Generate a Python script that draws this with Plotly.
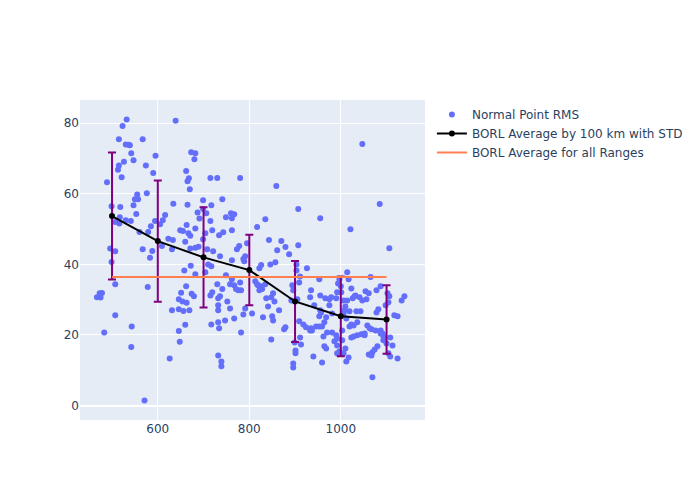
import plotly.graph_objects as go

# normal point range (km) and RMS values
range_km = [
    467, 473, 483, 489, 496, 499, 499, 507, 507, 507, 515, 513, 515, 517, 521, 523, 526, 532, 530, 539,
    536, 542, 547, 543, 542, 567, 639, 595, 574, 590, 555, 550, 557, 576, 518, 547, 634, 665, 673, 682,
    680, 662, 668, 665, 670, 553, 530, 541, 516, 507, 616, 611, 594, 605, 585, 579, 687, 691, 663, 649,
    655, 667, 671, 682, 623, 633, 660, 560, 671, 682, 689, 567, 588, 583, 609, 631, 658, 672, 682, 478,
    475, 578, 662, 651, 674, 679, 646, 654, 663, 631, 646, 656, 669, 571, 660, 646, 648, 626,
    715, 730, 780, 699, 717, 706, 699, 741, 749, 760, 762, 767, 715, 719, 734, 704, 699, 743, 762, 708,
    721, 736, 773, 778, 762, 791, 795, 787, 789, 710, 717, 704, 749, 762, 730, 758, 741, 767, 776, 780,
    782, 771, 719, 715, 732, 736, 752, 732, 732, 758, 791, 787, 806, 717, 732, 734, 782, 732, 739, 739,
    747, 767, 817, 835, 859, 843, 861, 870, 879, 887, 822, 826, 846, 857, 813, 819, 826, 828, 835, 817,
    822, 837, 848, 855, 852, 841, 850, 830, 865, 852, 879, 876, 848, 894, 909, 903, 903, 896, 905, 896,
    896, 901, 901, 899, 907, 907, 911, 892, 926, 909, 918, 924, 933, 937, 911, 913, 935, 946, 942, 933,
    935, 953, 940, 955, 955, 957, 966, 955, 953, 953, 959, 968, 964, 975, 962, 970, 959, 964, 968, 975,
    979, 981, 990, 986, 990, 981, 992, 997, 999, 992, 994, 1000, 1001, 992, 997, 992, 1003, 1003, 1010, 1006,
    1012, 1006, 1010, 1008, 1014, 1017, 1006, 1014, 1012, 1017, 1021, 1019, 1023, 1028, 1023, 1028, 1023, 1032, 1026, 1030,
    1019, 1034, 1036, 1041, 1043, 1047, 1036, 1045, 1052, 1052, 1047, 1054, 1056, 1061, 1058, 1063, 1067, 1061, 1067, 1069,
    1065, 1069, 1076, 1074, 1080, 1078, 1082, 1078, 1087, 1087, 1087, 1091, 1085, 1093, 1093, 1098, 1104, 1100, 1104, 1108,
    1106, 1102, 1106, 1108, 1113, 1117, 1124, 1124, 1133, 1139,
]
rms = [
    30.7, 31.8, 20.7, 63.3, 44.5, 40.7, 56.5, 34.4, 25.6, 43.7, 75.5, 66.8, 68.0, 53.4, 64.7, 79.2, 69.1, 81.1, 74.0, 73.8,
    73.9, 71.5, 69.5, 22.4, 16.6, 75.5, 80.7, 70.8, 68.0, 65.9, 59.8, 58.5, 58.5, 60.2, 56.3, 56.8, 57.2, 56.9, 71.8, 71.5,
    69.8, 66.5, 64.4, 63.6, 61.3, 54.3, 52.5, 52.3, 51.6, 52.0, 54.0, 52.5, 52.3, 51.4, 50.8, 49.2, 54.7, 53.0, 51.2, 49.7,
    49.5, 48.8, 48.1, 50.2, 47.3, 46.9, 46.4, 49.2, 44.5, 44.7, 45.0, 44.3, 43.8, 41.9, 45.2, 44.3, 38.3, 39.6, 37.2, 31.9,
    30.6, 33.6, 33.8, 32.0, 31.7, 31.0, 30.1, 29.5, 29.1, 27.0, 27.3, 26.8, 27.0, 1.4, 22.9, 21.1, 18.1, 13.3,
    64.5, 64.5, 64.5, 58.2, 56.8, 54.5, 55.7, 58.5, 53.4, 54.5, 53.1, 54.2, 52.3, 49.7, 48.3, 48.8, 47.1, 49.1, 49.7, 44.3,
    43.7, 42.3, 44.3, 45.2, 41.2, 42.3, 46.0, 41.5, 40.9, 40.0, 39.5, 37.8, 36.9, 35.8, 34.4, 34.4, 33.0, 34.1, 32.7, 34.9,
    32.7, 33.0, 32.1, 31.2, 30.4, 31.0, 29.5, 28.4, 27.0, 27.5, 27.5, 25.8, 26.1, 23.0, 23.6, 21.9, 20.7, 14.2, 12.5, 11.1,
    24.1, 24.7, 50.6, 52.8, 62.2, 46.9, 44.0, 46.6, 44.9, 42.9, 38.9, 39.8, 40.0, 40.6, 35.2, 34.1, 33.8, 33.0, 34.4, 34.4,
    32.7, 30.4, 30.7, 29.5, 31.8, 28.1, 25.3, 25.0, 27.0, 24.1, 22.2, 21.6, 18.7, 34.1, 34.9, 38.3, 40.0, 32.7, 30.1, 11.9,
    10.8, 14.8, 15.6, 17.9, 55.7, 45.4, 36.6, 29.8, 38.9, 23.9, 23.0, 22.2, 21.3, 21.3, 19.3, 17.3, 21.9, 22.4, 28.4, 30.7,
    32.7, 22.4, 13.9, 31.2, 27.0, 26.4, 30.4, 53.1, 35.8, 25.3, 22.4, 25.0, 23.6, 28.4, 19.6, 20.7, 12.2, 16.8, 16.2, 30.1,
    30.7, 20.7, 19.9, 18.2, 30.4, 26.1, 17.0, 15.3, 14.8, 14.8, 34.6, 33.8, 32.1, 32.1, 35.8, 19.0, 21.3, 18.5, 16.2, 26.1,
    24.7, 14.8, 28.1, 27.0, 37.8, 35.8, 29.8, 29.8, 12.5, 13.6, 50.0, 22.4, 23.0, 22.7, 19.3, 19.6, 33.2, 31.2, 30.4, 31.0,
    26.7, 26.7, 23.6, 30.7, 26.7, 29.8, 19.9, 20.2, 19.9, 20.4, 74.1, 32.4, 30.1, 31.8, 22.7, 21.9, 21.6, 14.5, 14.2, 15.1,
    36.4, 8.0, 21.3, 15.9, 16.8, 32.7, 27.3, 26.4, 33.8, 21.3, 20.4, 20.4, 57.1, 18.5, 19.6, 28.4, 29.3, 17.6, 14.8, 13.9,
    31.0, 31.8, 44.6, 19.3, 17.0, 25.6, 25.3, 13.3, 29.8, 31.0,
]

# averages per 100 km bin
bin_km = [500, 600, 700, 800, 900, 1000, 1100]
bin_mean = [53.7, 46.6, 42.0, 38.4, 29.5, 25.3, 24.4]
bin_std = [18.0, 17.2, 14.2, 10.0, 11.5, 11.3, 9.7]

# overall average
all_km = [500, 1100]
all_mean = [36.4, 36.4]

fig = go.Figure()

fig.add_trace(go.Scatter(
    x=range_km, y=rms, mode="markers", name="Normal Point RMS",
    marker=dict(color="#636efa", size=6),
))

fig.add_trace(go.Scatter(
    x=bin_km, y=bin_mean, mode="lines+markers",
    name="BORL Average by 100 km with STD",
    line=dict(color="black", width=2),
    marker=dict(color="black", size=6),
    error_y=dict(type="data", array=bin_std, visible=True,
                 color="purple", thickness=2, width=4),
))

fig.add_trace(go.Scatter(
    x=all_km, y=all_mean, mode="lines",
    name="BORL Average for all Ranges",
    line=dict(color="coral", width=2),
))

fig.update_layout(
    width=700, height=500,
    font=dict(family="DejaVu Sans", size=12),
)
fig.update_xaxes(range=[430, 1184])
fig.update_yaxes(range=[-4.1, 86.6])

# page margin off so the figure sits at the window corner
fig.write_html(
    "out.html",
    config={"displayModeBar": False},
    post_script="document.body.style.margin='0';",
)
